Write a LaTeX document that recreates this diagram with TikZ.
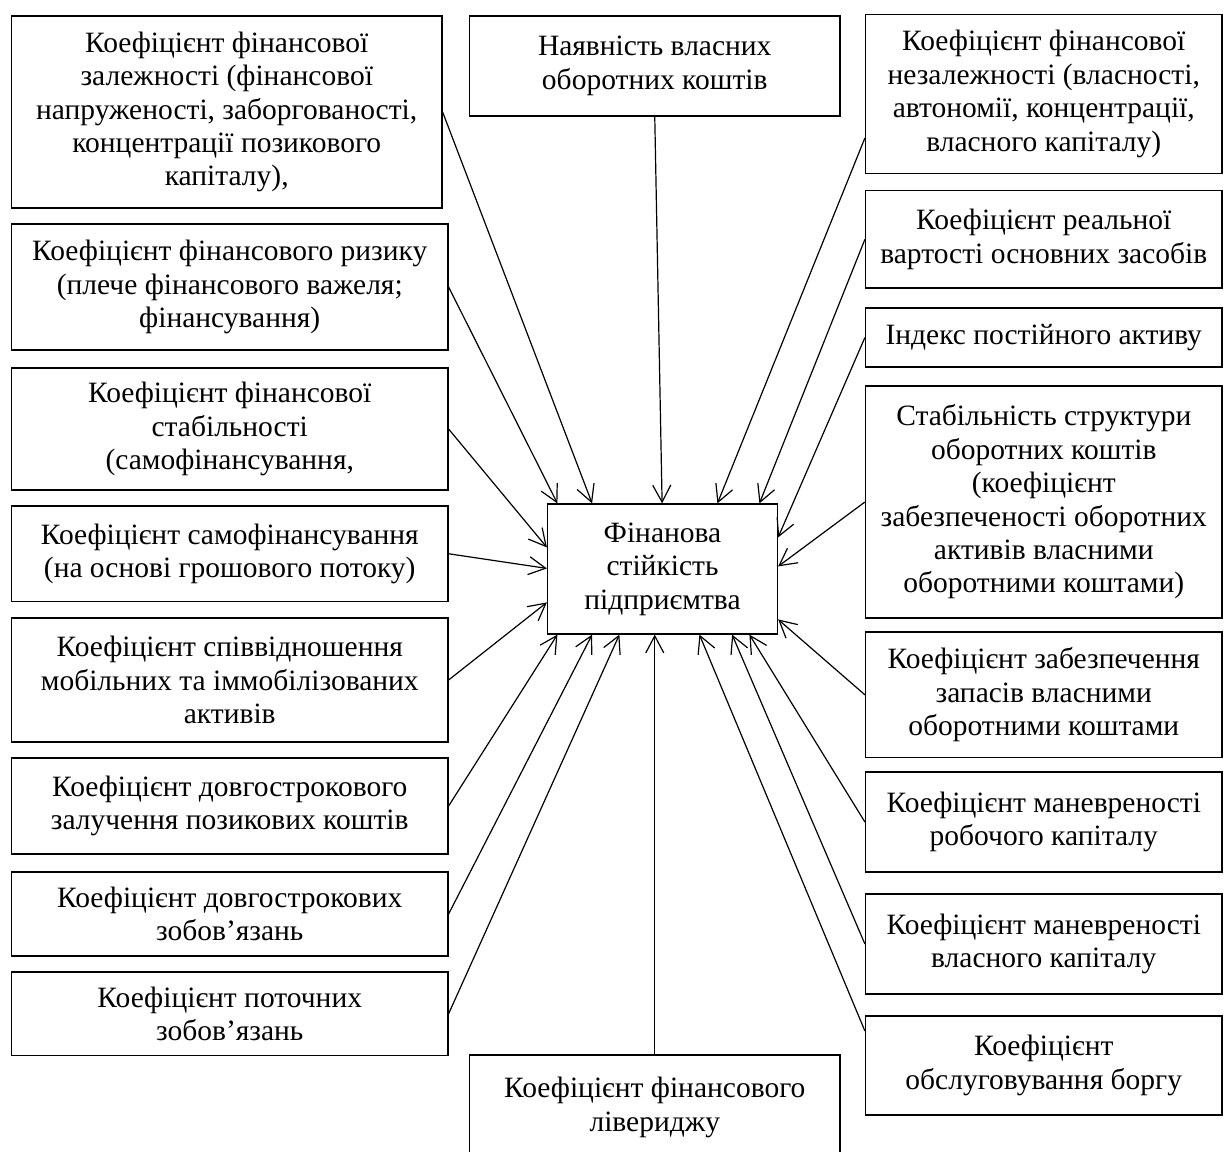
\documentclass[tikz,border=0pt]{standalone}
\usepackage{fontspec}
\setmainfont{Liberation Serif}
\usepackage{tikz}
\usetikzlibrary{%
  arrows.meta,%
}

\begin{document}
\begin{tikzpicture}[x=0.5pt, y=-0.5pt, font=\fontsize{14.75pt}{16.7pt}\selectfont,
    box/.style={draw, line width=0.6pt, align=center, inner sep=0pt},
    arr/.style={-{Straight Barb[length=8.5pt, width=9pt]}, line width=0.6pt}]
      \useasboundingbox (0, 0) rectangle (1224, 1151);
      \node [box, minimum height=65pt, minimum width=115pt] (finance) at (662.5, 569) {Фінанова \\ стійкість \\ підприємтва};
      \node [box, minimum height=96pt, minimum width=215.25pt] (dependence) at (226.75, 112) {Коефіцієнт фінансової \\ залежності (фінансової \\ напруженості, заборгованості, \\ концентрації позикового \\ капіталу),};
      \node [box, minimum height=63pt, minimum width=218.25pt] (risk) at (229.75, 287) {Коефіцієнт фінансового ризику \\ (плече фінансового важеля; \\ фінансування)};
      \node [box, minimum height=61pt, minimum width=218.25pt] (stability) at (229.75, 429) {Коефіцієнт фінансової \\ стабільності \\ (самофінансування,};
      \node [box, minimum height=47.75pt, minimum width=218.25pt] (selffinance) at (229.75, 553.75) {Коефіцієнт самофінансування \\ (на основі грошового потоку)};
      \node [box, minimum height=62pt, minimum width=218.25pt] (mobility) at (229.75, 680) {Коефіцієнт співвідношення \\ мобільних та іммобілізованих \\ активів};
      \node [box, minimum height=48pt, minimum width=218.25pt] (longterm) at (229.75, 806) {Коефіцієнт довгострокового \\ залучення позикових коштів};
      \node [box, minimum height=42pt, minimum width=218.25pt] (longdebt) at (229.75, 914) {Коефіцієнт довгострокових \\ зобов’язань};
      \node [box, minimum height=41.75pt, minimum width=218.25pt] (currentdebt) at (229.75, 1013.75) {Коефіцієнт поточних \\ зобов’язань};
      \node [box, minimum height=50pt, minimum width=185.25pt] (working) at (654.75, 66) {Наявність власних \\ оборотних коштів};
      \node [box, minimum height=52.5pt, minimum width=185.25pt] (leverage) at (654.75, 1107.5) {Коефіцієнт фінансового \\ лівериджу};
      \node [box, minimum height=79.5pt, minimum width=178.25pt] (independence) at (1043.75, 94) {Коефіцієнт фінансової \\ незалежності (власності, \\ автономії, концентрації, \\ власного капіталу)};
      \node [box, minimum height=48.65pt, minimum width=178.25pt] (realvalue) at (1043.75, 239.35) {Коефіцієнт реальної \\ вартості основних засобів};
      \node [box, minimum height=29.5pt, minimum width=178.25pt] (fixedindex) at (1043.75, 337.5) {Індекс постійного активу};
      \node [box, minimum height=116pt, minimum width=178.25pt] (structure) at (1043.75, 502) {Стабільність структури \\ оборотних коштів \\ (коефіцієнт \\ забезпеченості оборотних \\ активів власними \\ оборотними коштами)};
      \node [box, minimum height=62.8pt, minimum width=178.25pt] (reserves) at (1043.75, 694.8) {Коефіцієнт забезпечення \\ запасів власними \\ оборотними коштами};
      \node [box, minimum height=50pt, minimum width=178.25pt] (workmanoeuvre) at (1043.75, 822) {Коефіцієнт маневреності \\ робочого капіталу};
      \node [box, minimum height=50pt, minimum width=178.25pt] (equitymanoeuvre) at (1043.75, 944) {Коефіцієнт маневреності \\ власного капіталу};
      \node [box, minimum height=49.5pt, minimum width=178.25pt] (debtservice) at (1043.75, 1065.5) {Коефіцієнт \\ обслуговування боргу};
      \draw [arr] (dependence.east) -- ([xshift=22.6pt]finance.north west);
      \draw [arr] (risk.east) -- ([xshift=5.25pt]finance.north west);
      \draw [arr] (stability.east) -- ([yshift=-22pt]finance.north west);
      \draw [arr] (selffinance.east) -- ([yshift=-32.5pt]finance.north west);
      \draw [arr] (mobility.east) -- ([yshift=-49.5pt]finance.north west);
      \draw [arr] (longterm.east) -- ([xshift=5.25pt]finance.south west);
      \draw [arr] (longdebt.east) -- ([xshift=22.6pt]finance.south west);
      \draw [arr] (currentdebt.east) -- ([xshift=36.25pt]finance.south west);
      \draw [arr] (working.south) -- ([xshift=57.6pt]finance.north west);
      \draw [arr] (leverage.north) -- (leverage.north |- finance.south);
      \draw [arr] ([yshift=-22pt]independence.west) -- ([xshift=85.25pt]finance.north west);
      \draw [arr] (realvalue.west) -- ([xshift=106.25pt]finance.north west);
      \draw [arr] (fixedindex.west) -- ([yshift=-17pt]finance.north east);
      \draw [arr] (structure.west) -- ([yshift=-31.5pt]finance.north east);
      \draw [arr] (reserves.west) -- ([yshift=-58pt]finance.north east);
      \draw [arr] (workmanoeuvre.west) -- ([xshift=101.25pt]finance.south west);
      \draw [arr] (equitymanoeuvre.west) -- ([xshift=92.6pt]finance.south west);
      \draw [arr] ([yshift=17.25pt]debtservice.west) -- ([xshift=76.25pt]finance.south west);
    \end{tikzpicture}
\end{document}
